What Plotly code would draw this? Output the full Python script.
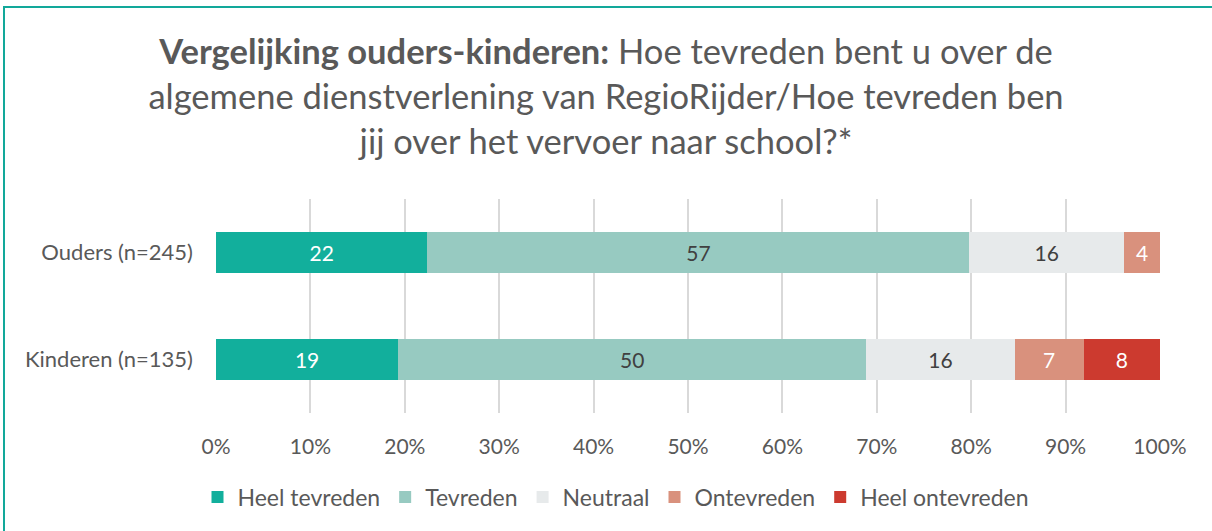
import plotly.graph_objects as go

categories = ["Kinderen (n=135)", "Ouders (n=245)"]
series_names = ["Heel tevreden", "Tevreden", "Neutraal", "Ontevreden", "Heel ontevreden"]
heel_tevreden = [19.3, 22.4]
tevreden = [49.6, 57.4]
neutraal = [15.7, 16.4]
ontevreden = [7.3, 3.8]
heel_ontevreden = [8.1, 0.0]
x_ticks = [0, 10, 20, 30, 40, 50, 60, 70, 80, 90, 100]
x_tick_labels = [f"{t}%" for t in x_ticks]

colors = ["#12AF9C", "#97CAC1", "#E7EAEB", "#D9917D", "#CC3A2F"]
text_colors = ["white", "#404040", "#404040", "white", "white"]
series_values = [heel_tevreden, tevreden, neutraal, ontevreden, heel_ontevreden]

FONT = "Lato"
W, H = 1212, 531
L, R, T, B = 216, 52, 199, 118
pw, ph = W - L - R, H - T - B

fig = go.Figure()
for name, vals, col, tcol in zip(series_names, series_values, colors, text_colors):
    fig.add_trace(go.Bar(
        y=categories, x=vals, name=name, orientation="h",
        marker=dict(color=col, line=dict(width=0)),
        text=[f"{v:.0f}" if v > 0 else "" for v in vals],
        textposition="inside", insidetextanchor="middle", textangle=0,
        constraintext="none",
        textfont=dict(family=FONT, size=21, color=tcol),
        width=0.38,
    ))

def px_x(p):
    return (p - L) / pw

def px_y(p):
    return (H - B - p) / ph

fig.update_layout(
    width=W, height=H,
    barmode="stack",
    margin=dict(l=L, r=R, t=T, b=B),
    plot_bgcolor="white", paper_bgcolor="white",
    font=dict(family=FONT, color="#595959"),
    title=dict(
        text="<b>Vergelijking ouders-kinderen:</b> Hoe tevreden bent u over de<br>"
             "algemene dienstverlening van RegioRijder/Hoe tevreden ben<br>"
             "jij over het vervoer naar school?*",
        x=0.5, xanchor="center", y=1 - 64 / H, yanchor="middle",
        font=dict(family=FONT, size=34.5, color="#595959"),
    ),
    xaxis=dict(
        range=[0, 100], tickvals=x_ticks, ticktext=x_tick_labels,
        showgrid=True, gridcolor="#D9D9D9", gridwidth=1.5,
        zeroline=False, showline=False, ticks="",
        ticklabelstandoff=19,
        tickfont=dict(family=FONT, size=21, color="#595959"),
        fixedrange=True,
    ),
    yaxis=dict(
        range=[-0.5, 1.5], showgrid=False, zeroline=False, showline=False,
        ticks="", ticklabelstandoff=22,
        tickfont=dict(family=FONT, size=22, color="#595959"),
    ),
    legend=dict(
        orientation="h", x=px_x(616), xanchor="center", y=px_y(497), yanchor="middle",
        font=dict(family=FONT, size=23, color="#595959"),
        traceorder="normal", itemwidth=30,
    ),
    shapes=[dict(
        type="rect", xref="paper", yref="paper",
        x0=px_x(4), x1=px_x(1230), y0=px_y(560), y1=px_y(7),
        line=dict(color="#12A89A", width=2), fillcolor="rgba(0,0,0,0)", layer="below",
    )],
    showlegend=True,
)

fig.write_html("out.html", config={"displayModeBar": False},
               post_script="document.body.style.margin='0px';")
